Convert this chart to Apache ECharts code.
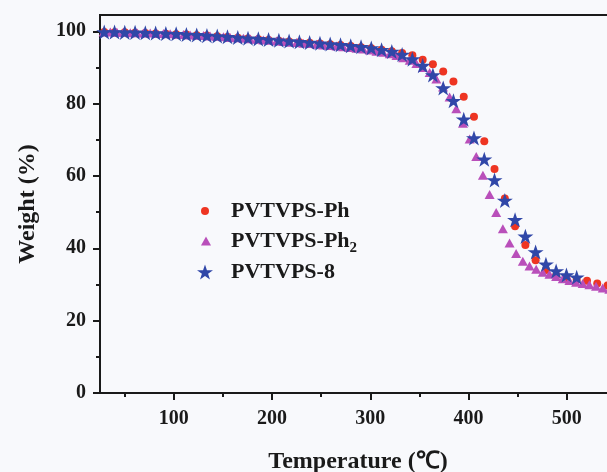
<!DOCTYPE html>
<html>
<head>
<meta charset="utf-8">
<script src="https://cdn.jsdelivr.net/npm/echarts@6/dist/echarts.min.js"></script>
<style>
html,body{margin:0;padding:0;background:#f8f9fc;}
#chart{width:607px;height:472px;}
</style>
</head>
<body>
<div id="chart"></div>
<script>
// ---- data ----
const seriesNames = ['PVTVPS-Ph', 'PVTVPS-Ph2', 'PVTVPS-8'];

const tempPh = [29.3, 39.8, 50.2, 60.7, 71.1, 81.6, 92.0, 102.5, 112.9, 123.4, 133.8, 144.3, 154.7, 165.2, 175.6, 186.1, 196.5, 207.0, 217.4, 227.9, 238.3, 248.8, 259.2, 269.7, 280.1, 290.6, 301.0, 311.5, 321.9, 332.4, 342.8, 353.3, 363.7, 374.2, 384.6, 395.1, 405.5, 416.0, 426.4, 436.9, 447.3, 457.8, 468.2, 478.7, 489.1, 499.6, 510.0, 520.5, 530.9, 541.4];
const weightPh = [99.8, 99.7, 99.7, 99.6, 99.5, 99.4, 99.3, 99.2, 99.1, 98.9, 98.8, 98.6, 98.4, 98.2, 98.0, 97.8, 97.6, 97.4, 97.2, 97.0, 96.8, 96.6, 96.4, 96.2, 95.9, 95.6, 95.3, 94.9, 94.5, 94.0, 93.4, 92.1, 90.9, 88.9, 86.1, 81.9, 76.4, 69.6, 61.9, 53.8, 46.1, 40.9, 36.7, 34.0, 32.5, 31.7, 31.3, 31.0, 30.3, 29.7];

const tempPh2 = [28.7, 35.5, 42.2, 49.0, 55.8, 62.6, 69.3, 76.1, 82.9, 89.6, 96.4, 103.2, 109.9, 116.7, 123.5, 130.3, 137.0, 143.8, 150.6, 157.3, 164.1, 170.9, 177.6, 184.4, 191.2, 198.0, 204.7, 211.5, 218.3, 225.0, 231.8, 238.6, 245.3, 252.1, 258.9, 265.7, 272.4, 279.2, 286.0, 292.7, 299.5, 306.3, 313.0, 319.8, 326.6, 333.4, 340.1, 346.9, 353.7, 360.4, 367.2, 374.0, 380.7, 387.5, 394.3, 401.1, 407.8, 414.6, 421.4, 428.1, 434.9, 441.7, 448.4, 455.2, 462.0, 468.8, 475.5, 482.3, 489.1, 495.8, 502.6, 509.4, 516.1, 522.9, 529.7, 536.5, 543.2];
const weightPh2 = [99.8, 99.8, 99.7, 99.7, 99.6, 99.6, 99.5, 99.5, 99.4, 99.4, 99.3, 99.2, 99.1, 99.0, 98.9, 98.8, 98.7, 98.6, 98.5, 98.3, 98.2, 98.1, 97.9, 97.8, 97.6, 97.5, 97.3, 97.2, 97.0, 96.9, 96.7, 96.6, 96.4, 96.2, 96.1, 95.9, 95.7, 95.5, 95.3, 95.1, 94.8, 94.5, 94.2, 93.8, 93.3, 92.7, 92.0, 91.1, 90.0, 88.6, 86.8, 84.6, 81.8, 78.6, 74.6, 70.2, 65.4, 60.2, 54.9, 49.9, 45.4, 41.5, 38.6, 36.4, 35.1, 34.2, 33.4, 32.8, 32.2, 31.6, 31.1, 30.6, 30.3, 29.9, 29.5, 29.0, 28.7];

const temp8 = [29.3, 39.8, 50.2, 60.7, 71.1, 81.6, 92.0, 102.5, 112.9, 123.4, 133.8, 144.3, 154.7, 165.2, 175.6, 186.1, 196.5, 207.0, 217.4, 227.9, 238.3, 248.8, 259.2, 269.7, 280.1, 290.6, 301.0, 311.5, 321.9, 332.4, 342.8, 353.3, 363.7, 374.2, 384.6, 395.1, 405.5, 416.0, 426.4, 436.9, 447.3, 457.8, 468.2, 478.7, 489.1, 499.6, 510.0];
const weight8 = [99.8, 99.8, 99.7, 99.7, 99.6, 99.5, 99.4, 99.3, 99.1, 99.0, 98.8, 98.7, 98.5, 98.3, 98.1, 97.9, 97.7, 97.5, 97.3, 97.1, 96.9, 96.7, 96.5, 96.3, 96.0, 95.7, 95.4, 94.9, 94.4, 93.6, 92.3, 90.5, 87.9, 84.3, 80.8, 75.7, 70.5, 64.6, 58.9, 53.2, 47.9, 43.3, 39.0, 35.6, 33.7, 32.6, 32.0];

const xMajorTicks = [100, 200, 300, 400, 500];
const xMinorTicks = [50, 150, 250, 350, 450, 550];
const yMajorTicks = [0, 20, 40, 60, 80, 100];
const yMinorTicks = [10, 30, 50, 70, 90];

// ---- styling ----
const FONT = "'Liberation Serif', 'Times New Roman', serif";
const INK = '#1a1a1a';
const RED = '#ee3522';
const PURPLE = '#b94fba';
const BLUE = '#3047a8';
const STAR = 'path://M50,0 L61.8,35.1 L98.9,35.1 L68.9,56.8 L80.3,91.9 L50,70.2 L19.7,91.9 L31.1,56.8 L1.1,35.1 L38.2,35.1 Z';

const zip = (xs, ys) => xs.map((x, i) => [x, ys[i]]);

const chart = echarts.init(document.getElementById('chart'), null, {renderer: 'canvas'});

const legendText = {fontFamily: FONT, fontWeight: 'bold', fontSize: 22, color: INK, lineHeight: 26};

chart.setOption({
  backgroundColor: '#f8f9fc',
  animation: false,
  grid: {left: 100, top: 15, right: -9, bottom: 79, show: true, borderColor: INK, borderWidth: 2, backgroundColor: 'transparent', containLabel: false, outerBoundsMode: 'none'},
  xAxis: [{
    type: 'value', min: 25, max: 550, position: 'bottom',
    axisLine: {show: true, lineStyle: {color: INK, width: 2}},
    axisTick: {show: true, inside: false, length: 7, customValues: xMajorTicks, lineStyle: {color: INK, width: 2}},
    axisLabel: {show: true, customValues: xMajorTicks, margin: 16, fontFamily: FONT, fontWeight: 'bold', fontSize: 20, color: INK},
    splitLine: {show: false},
    name: 'Temperature (\u2103)', nameLocation: 'middle', nameGap: 57,
    nameTextStyle: {fontFamily: FONT, fontWeight: 'bold', fontSize: 24, color: INK}
  }, {
    type: 'value', min: 25, max: 550, position: 'bottom',
    axisLine: {show: false},
    axisTick: {show: true, inside: false, length: 4, customValues: xMinorTicks, lineStyle: {color: INK, width: 2}},
    axisLabel: {show: false},
    splitLine: {show: false}
  }],
  yAxis: [{
    type: 'value', min: 0, max: 104.5, position: 'left',
    axisLine: {show: true, lineStyle: {color: INK, width: 2}},
    axisTick: {show: true, inside: false, length: 7, customValues: yMajorTicks, lineStyle: {color: INK, width: 2}},
    axisLabel: {show: true, customValues: yMajorTicks, margin: 14, fontFamily: FONT, fontWeight: 'bold', fontSize: 20, color: INK},
    splitLine: {show: false},
    name: 'Weight (%)', nameLocation: 'middle', nameGap: 60,
    nameTextStyle: {fontFamily: FONT, fontWeight: 'bold', fontSize: 24, color: INK}
  }, {
    type: 'value', min: 0, max: 104.5, position: 'left',
    axisLine: {show: false},
    axisTick: {show: true, inside: false, length: 4, customValues: yMinorTicks, lineStyle: {color: INK, width: 2}},
    axisLabel: {show: false},
    splitLine: {show: false}
  }],
  legend: [{
    data: [{name: seriesNames[0], icon: 'circle'}],
    left: 201, top: 198, padding: 0, itemWidth: 8, itemHeight: 8, selectedMode: false,
    textStyle: Object.assign({}, legendText, {padding: [0, 0, 0, 17]})
  }, {
    data: [{name: seriesNames[1], icon: 'triangle'}],
    left: 201, top: 230, padding: 0, itemWidth: 10, itemHeight: 9, selectedMode: false,
    formatter: () => '{a|PVTVPS-Ph}{s|2}',
    textStyle: {fontFamily: FONT, fontWeight: 'bold', fontSize: 22, color: INK, padding: [0, 0, 0, 15],
      rich: {
        a: {fontFamily: FONT, fontWeight: 'bold', fontSize: 22, color: INK, lineHeight: 30},
        s: {fontFamily: FONT, fontWeight: 'bold', fontSize: 15, color: INK, lineHeight: 12, verticalAlign: 'bottom'}
      }}
  }, {
    data: [{name: seriesNames[2], icon: STAR}],
    left: 197, top: 259, padding: 0, itemWidth: 16, itemHeight: 16, selectedMode: false,
    textStyle: Object.assign({}, legendText, {padding: [0, 0, 0, 13]})
  }],
  series: [{
    name: seriesNames[0], type: 'scatter', xAxisIndex: 0, yAxisIndex: 0,
    symbol: 'circle', symbolSize: 8,
    itemStyle: {color: RED, opacity: 1},
    data: zip(tempPh, weightPh), z: 2
  }, {
    name: seriesNames[1], type: 'scatter', xAxisIndex: 0, yAxisIndex: 0,
    symbol: 'triangle', symbolSize: [10, 9],
    itemStyle: {color: PURPLE, opacity: 1},
    data: zip(tempPh2, weightPh2), z: 3
  }, {
    name: seriesNames[2], type: 'scatter', xAxisIndex: 0, yAxisIndex: 0,
    symbol: STAR, symbolSize: 16, symbolKeepAspect: true,
    itemStyle: {color: BLUE, opacity: 1},
    data: zip(temp8, weight8), z: 4
  }]
});
</script>
</body>
</html>
